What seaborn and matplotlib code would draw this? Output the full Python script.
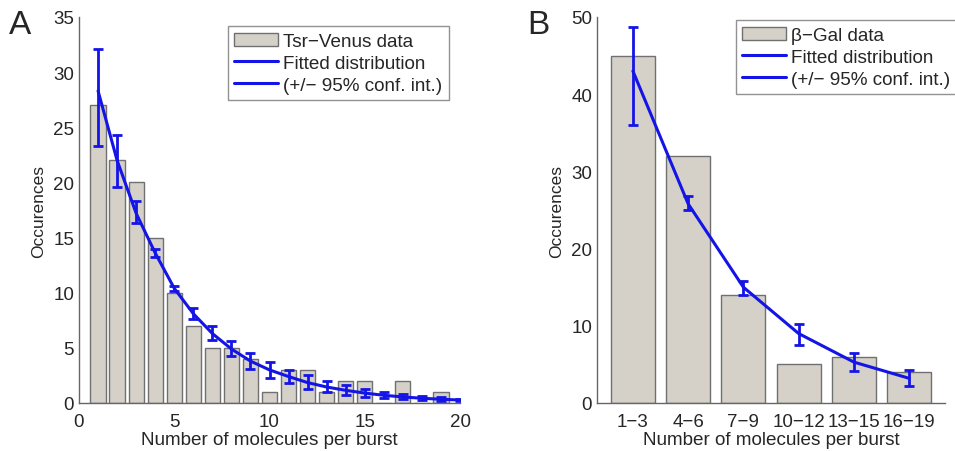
import numpy as np
import pandas as pd
import matplotlib
matplotlib.use("Agg")
from matplotlib import pyplot as plt
from matplotlib.patches import Patch
from matplotlib.lines import Line2D
import seaborn as sns

# panel A: Tsr-Venus
a_x = list(range(1, 20))
a_counts = [27, 22, 20, 15, 10, 7, 5, 5, 4, 1, 3, 3, 1, 2, 2, 0, 2, 0, 1]
a_fit_x = list(range(1, 21))
a_fit = [28.3, 22.0, 17.2, 13.6, 10.4, 8.1, 6.3, 4.9, 3.8, 3.0,
         2.4, 1.85, 1.45, 1.15, 0.9, 0.7, 0.55, 0.43, 0.34, 0.27]
a_lo = [23.3, 19.6, 16.3, 13.2, 10.2, 7.6, 5.7, 4.3, 3.1, 2.3,
        1.8, 1.3, 1.0, 0.75, 0.55, 0.45, 0.35, 0.3, 0.22, 0.2]
a_hi = [32.1, 24.3, 18.3, 14.0, 10.6, 8.6, 7.0, 5.6, 4.5, 3.7,
        3.0, 2.5, 1.95, 1.6, 1.3, 1.0, 0.8, 0.6, 0.5, 0.35]

# panel B: beta-Gal
b_bins = ["1\u22123", "4\u22126", "7\u22129", "10\u221212", "13\u221215", "16\u221219"]
b_counts = [45, 32, 14, 5, 6, 4]
b_fit = [43.0, 25.8, 15.0, 9.0, 5.3, 3.2]
b_lo = [36.0, 25.0, 14.0, 7.5, 4.2, 2.2]
b_hi = [48.7, 26.8, 15.8, 10.2, 6.5, 4.3]

sns.set_style("white")
plt.rcParams['font.family'] = ['Liberation Sans', 'DejaVu Sans']
plt.rcParams['font.size'] = 13

BAR = '#d5d1c9'
EDGE = '#707070'
BLUE = '#1414e6'

fig = plt.figure(figsize=(9.55, 4.52), dpi=100)
axA = fig.add_axes([79/955, 48/452, 381/955, 386/452])
axB = fig.add_axes([597/955, 48/452, 348/955, 386/452])

dfa = pd.DataFrame({'x': a_x, 'count': a_counts})
sns.barplot(data=dfa, x='x', y='count', native_scale=True, color=BAR,
            saturation=1, edgecolor=EDGE, linewidth=1, width=0.8, ax=axA)
dfaf = pd.DataFrame({'x': a_fit_x, 'fit': a_fit})
sns.lineplot(data=dfaf, x='x', y='fit', color=BLUE, lw=2.2, ax=axA)
axA.errorbar(a_fit_x, a_fit,
             yerr=[np.array(a_fit) - np.array(a_lo), np.array(a_hi) - np.array(a_fit)],
             fmt='none', ecolor=BLUE, elinewidth=2, capsize=3.5, capthick=2)
axA.set_xlim(0, 20)
axA.set_ylim(0, 35)
axA.set_xticks([0, 5, 10, 15, 20])
axA.set_yticks(range(0, 36, 5))

dfb = pd.DataFrame({'bin': b_bins, 'count': b_counts})
sns.barplot(data=dfb, x='bin', y='count', color=BAR, saturation=1,
            edgecolor=EDGE, linewidth=1, width=0.8, ax=axB)
bx = np.arange(len(b_bins))
sns.lineplot(x=bx, y=b_fit, color=BLUE, lw=2.2, ax=axB)
axB.errorbar(bx, b_fit,
             yerr=[np.array(b_fit) - np.array(b_lo), np.array(b_hi) - np.array(b_fit)],
             fmt='none', ecolor=BLUE, elinewidth=2, capsize=3.5, capthick=2)
axB.set_xlim(-0.65, 5.65)
axB.set_ylim(0, 50)
axB.set_yticks(range(0, 51, 10))

legpos = {0: (449/955, 1 - 27/452), 1: (957/955, 1 - 21/452)}
for i, (ax, lab) in enumerate([(axA, 'Tsr\u2212Venus data'), (axB, '\u03b2\u2212Gal data')]):
    ax.set_xlabel('Number of molecules per burst', fontsize=13.6, labelpad=1)
    ax.set_ylabel('Occurences', fontsize=12.5, labelpad=5)
    for s in ['top', 'right']:
        ax.spines[s].set_visible(False)
    for s in ['left', 'bottom']:
        ax.spines[s].set_color('#666666')
        ax.spines[s].set_linewidth(1)
    ax.tick_params(direction='in', length=4, color='#666666', labelsize=13.5)
    ax.tick_params(axis='x', pad=7)
    handles = [Patch(facecolor=BAR, edgecolor=EDGE),
               Line2D([], [], color=BLUE, lw=2.2),
               Line2D([], [], color=BLUE, lw=2.2)]
    leg = ax.legend(handles, [lab, 'Fitted distribution', '(+/\u2212 95% conf. int.)'],
                    loc='upper right', bbox_to_anchor=legpos[i],
                    bbox_transform=fig.transFigure, fontsize=13.6, frameon=True,
                    fancybox=False, borderpad=0.35, labelspacing=0.25,
                    handlelength=2.3, handletextpad=0.3, borderaxespad=0)
    leg.get_frame().set_edgecolor('#777777')
    leg.get_frame().set_linewidth(1)

fig.text(9/955, 1 - 26/452, 'A', fontsize=24, va='center')
fig.text(527/955, 1 - 26/452, 'B', fontsize=24, va='center')

fig.savefig('out.png', dpi=100)
